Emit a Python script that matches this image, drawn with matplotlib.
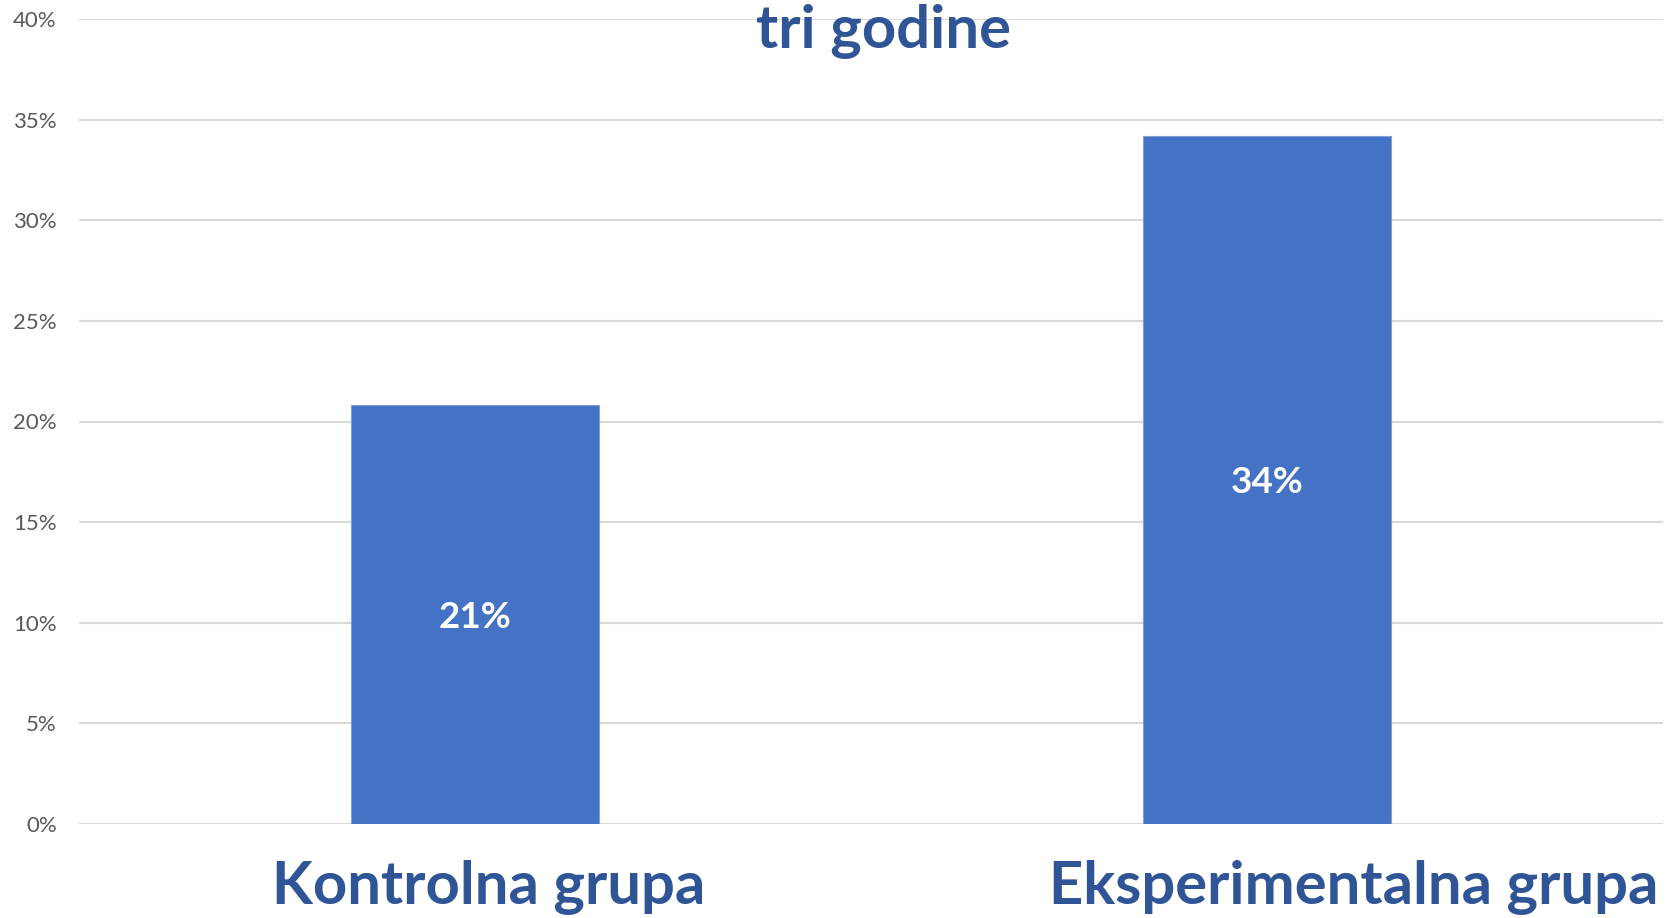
import matplotlib
matplotlib.use("Agg")
from matplotlib import pyplot as plt
from matplotlib import transforms
import numpy as np

groups = ["Kontrolna grupa", "Eksperimentalna grupa"]
values = [20.8, 34.2]          # percent
value_labels = ["21%", "34%"]
yticks = [0, 5, 10, 15, 20, 25, 30, 35, 40]
title = "tri godine"

bar_color = "#4472C4"
text_blue = "#2F5597"

plt.rcParams["font.family"] = ["Lato", "DejaVu Sans"]

fig = plt.figure(figsize=(16.66, 9.18), dpi=100)
ax = fig.add_axes([79 / 1666, 1 - 824 / 918, 1584 / 1666, 805 / 918])

x = np.arange(len(groups))
bars = ax.bar(x, values, width=0.313, color=bar_color, edgecolor="#7f9fd8",
              linewidth=0.8, zorder=3)

# white labels in the middle of the bars
for b, lab in zip(bars, value_labels):
    ax.text(b.get_x() + b.get_width() / 2, b.get_height() / 2, lab,
            ha="center", va="center_baseline", color="white", fontsize=26.5,
            fontweight="bold", zorder=4)

ax.set_xlim(-0.5, 1.5)
ax.set_ylim(0, 40)
ax.set_yticks(yticks)
ax.set_yticklabels([f"{t}%" for t in yticks], color="#595959", fontsize=16)
ax.yaxis.grid(True, color="#d9d9d9", linewidth=1.5, zorder=0)
ax.tick_params(axis="y", length=0, pad=16)
ax.tick_params(axis="x", length=0, pad=26)
for s in ax.spines.values():
    s.set_visible(False)

ax.set_xticks(x)
ax.set_xticklabels(groups, fontsize=43, fontweight="bold", color=text_blue)
# labels sit a bit right of the bar centres in the original
shifts = [0.14, 0.87]
for lab, dx in zip(ax.get_xticklabels(), shifts):
    lab.set_transform(lab.get_transform() +
                      transforms.ScaledTranslation(dx, 0, fig.dpi_scale_trans))

fig.text(883 / 1666, 1 - 48 / 918, title, ha="center", va="baseline",
         fontsize=43, fontweight="bold", color=text_blue)

fig.savefig("out.png", dpi=100, facecolor="white")
